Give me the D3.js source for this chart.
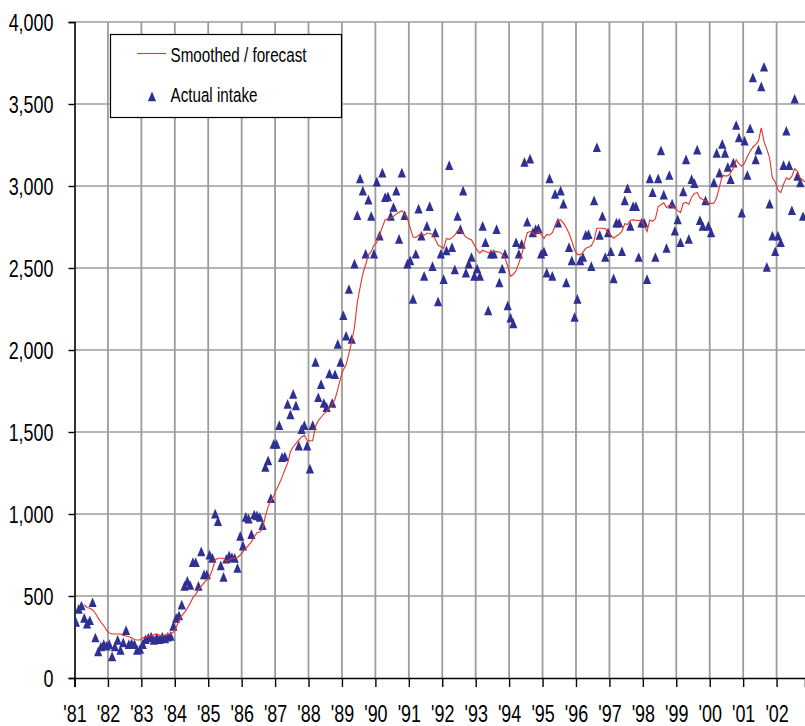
<!DOCTYPE html>
<html>
<head>
<meta charset="utf-8">
<script src="https://cdn.jsdelivr.net/npm/d3@7/dist/d3.min.js"></script>
<style>
  html, body { margin: 0; padding: 0; background: #fff; }
  svg { display: block; }
  text { font-family: "Liberation Sans", Arial, sans-serif; fill: #000; }
</style>
</head>
<body>
<svg id="chart" width="805" height="726"></svg>
<script>
// Monthly intake, one array per calendar year (Jan..Dec)
const startYear = 1981;
const actual1981 = [335, 415, 435, 360, 325, 345, 455, 240, 155, 185, 200, 190];
const actual1982 = [200, 125, 185, 225, 165, 210, 285, 200, 205, 200, 165, 170];
const actual1983 = [200, 230, 240, 245, 225, 240, 230, 245, 235, 245, 250, 310];
const actual1984 = [360, 375, 440, 555, 585, 560, 700, 700, 555, 765, 625, 625];
const actual1985 = [745, 725, 995, 950, 680, 610, 720, 740, 730, 725, 665, 860];
const actual1986 = [800, 975, 965, 870, 990, 985, 975, 925, 1280, 1320, 1090, 1420];
const actual1987 = [1420, 1535, 1340, 1345, 1665, 1600, 1725, 1655, 1410, 1510, 1535, 1410];
const actual1988 = [1270, 1535, 1920, 1705, 1785, 1670, 1645, 1850, 1670, 1845, 2030, 1920];
const actual1989 = [2205, 2080, 2365, 2060, 2520, 2815, 3040, 2965, 2580, 2910, 2810, 2580];
const actual1990 = [3020, 2690, 3075, 2925, 2930, 2810, 2865, 2965, 2670, 3075, 2815, 2520];
const actual1991 = [2540, 2305, 2580, 2855, 2690, 2445, 2750, 2870, 2505, 2710, 2290, 2580];
const actual1992 = [2425, 2600, 3120, 2620, 2485, 2810, 2730, 2965, 2465, 2520, 2560, 2445];
const actual1993 = [2490, 2445, 2750, 2650, 2235, 2580, 2580, 2730, 2405, 2490, 2580, 2265];
const actual1994 = [2190, 2155, 2650, 2580, 2640, 3140, 2775, 3160, 2710, 2730, 2735, 2580];
const actual1995 = [2595, 2465, 3040, 2445, 2945, 2770, 2965, 2885, 2405, 2620, 2540, 2195];
const actual1996 = [2305, 2540, 2560, 2695, 2700, 2505, 2905, 3230, 2695, 2810, 2560, 2710];
const actual1997 = [2595, 2430, 2770, 2770, 2595, 2905, 2980, 2750, 2870, 2870, 2560, 2770];
const actual1998 = [2770, 2425, 3040, 2955, 2560, 3040, 3210, 2940, 2615, 3060, 2885, 2720];
const actual1999 = [2790, 2650, 2960, 3155, 2670, 3035, 3010, 3215, 2785, 2750, 2905, 2750];
const actual2000 = [2710, 3015, 3195, 3075, 3250, 3195, 3110, 3035, 3135, 3365, 3290, 2830];
const actual2001 = [3270, 3060, 3345, 3655, 3155, 3215, 3600, 3720, 2500, 2885, 2690, 2595];
const actual2002 = [2690, 2650, 3120, 3330, 3120, 2845, 3525, 3055, 3015, 2810];

// Smoothed / forecast series, monthly, beginning April 1981
const smoothStartMonth = 3;
const smoothed1981 = [445, 430, 425, 415, 395, 365, 340, 320, 290];
const smoothed1982 = [275, 268, 268, 268, 268, 260, 256, 252, 245, 235, 232, 232];
const smoothed1983 = [245, 252, 255, 258, 265, 268, 260, 256, 260, 265, 268, 280];
const smoothed1984 = [310, 350, 380, 400, 425, 455, 490, 510, 537, 560, 580, 600];
const smoothed1985 = [618, 660, 720, 730, 730, 730, 710, 720, 730, 730, 735, 750];
const smoothed1986 = [770, 790, 810, 830, 860, 886, 890, 910, 985, 1045, 1080, 1110];
const smoothed1987 = [1150, 1185, 1225, 1270, 1310, 1380, 1410, 1430, 1450, 1470, 1480, 1450];
const smoothed1988 = [1447, 1447, 1535, 1570, 1590, 1610, 1625, 1645, 1670, 1700, 1760, 1830];
const smoothed1989 = [1880, 1910, 1980, 2050, 2140, 2290, 2380, 2465, 2520, 2580, 2600, 2640];
const smoothed1990 = [2655, 2700, 2750, 2795, 2800, 2805, 2815, 2830, 2840, 2850, 2830, 2800];
const smoothed1991 = [2745, 2690, 2685, 2700, 2710, 2700, 2712, 2712, 2705, 2675, 2640, 2630];
const smoothed1992 = [2620, 2680, 2675, 2685, 2700, 2728, 2725, 2710, 2688, 2678, 2671, 2640];
const smoothed1993 = [2610, 2590, 2608, 2600, 2594, 2598, 2600, 2600, 2598, 2585, 2560, 2512];
const smoothed1994 = [2450, 2460, 2485, 2530, 2580, 2650, 2715, 2722, 2715, 2702, 2722, 2705];
const smoothed1995 = [2680, 2705, 2700, 2715, 2755, 2790, 2793, 2775, 2745, 2712, 2665, 2610];
const smoothed1996 = [2583, 2580, 2595, 2620, 2626, 2635, 2670, 2742, 2742, 2742, 2740, 2715];
const smoothed1997 = [2700, 2681, 2695, 2705, 2725, 2770, 2765, 2790, 2795, 2790, 2791, 2785];
const smoothed1998 = [2760, 2722, 2793, 2785, 2800, 2875, 2886, 2897, 2868, 2884, 2878, 2862];
const smoothed1999 = [2850, 2838, 2895, 2900, 2888, 2932, 2955, 2960, 2928, 2918, 2910, 2896];
const smoothed2000 = [2894, 2895, 2930, 2995, 3065, 3062, 3062, 3080, 3110, 3160, 3135, 3120];
const smoothed2001 = [3139, 3180, 3210, 3238, 3252, 3275, 3355, 3270, 3225, 3170, 3050, 3025];
const smoothed2002 = [2975, 2960, 3010, 3050, 3040, 3060, 3105, 3090, 3047, 3035, 3020];

const yTicks = [0, 500, 1000, 1500, 2000, 2500, 3000, 3500, 4000];
const yearTicks = d3.range(1981, 2003);
const yearLabels = ["'81", "'82", "'83", "'84", "'85", "'86", "'87", "'88", "'89", "'90", "'91",
                    "'92", "'93", "'94", "'95", "'96", "'97", "'98", "'99", "'00", "'01", "'02"];
const legendLabels = ["Smoothed / forecast", "Actual intake"];

const actualByYear = [actual1981, actual1982, actual1983, actual1984, actual1985, actual1986,
  actual1987, actual1988, actual1989, actual1990, actual1991, actual1992, actual1993, actual1994,
  actual1995, actual1996, actual1997, actual1998, actual1999, actual2000, actual2001, actual2002];
const smoothedByYear = [smoothed1981, smoothed1982, smoothed1983, smoothed1984, smoothed1985,
  smoothed1986, smoothed1987, smoothed1988, smoothed1989, smoothed1990, smoothed1991, smoothed1992,
  smoothed1993, smoothed1994, smoothed1995, smoothed1996, smoothed1997, smoothed1998, smoothed1999,
  smoothed2000, smoothed2001, smoothed2002];

// flatten into {t (fractional year, mid-month), v}
const actualPts = [];
actualByYear.forEach((arr, yi) => arr.forEach((v, mi) =>
  actualPts.push({ t: startYear + yi + (mi + 0.5) / 12, v })));
const smoothPts = [];
let mIdx = smoothStartMonth;
smoothedByYear.forEach(arr => arr.forEach(v => {
  smoothPts.push({ t: startYear + (mIdx + 0.5) / 12, v });
  mIdx++;
}));

const plotLeft = 74.5, plotRight = 805, plotTop = 22, plotBottom = 678;
const NARROW = 0.78;
const BLUE = "#2e3192";
const RED = "#e3342b";
const GRID = "#9c9c9c";

const x = d3.scaleLinear().domain([1981, 2002.85]).range([plotLeft, plotRight]);
const y = d3.scaleLinear().domain([0, 4000]).range([plotBottom, plotTop]);

const svg = d3.select("#chart");

svg.append("defs").append("clipPath").attr("id", "plotClip")
  .append("rect").attr("x", plotLeft).attr("y", plotTop - 5)
  .attr("width", plotRight - plotLeft).attr("height", plotBottom - plotTop + 10);

// grid
const grid = svg.append("g");
grid.selectAll("line.h").data(yTicks.filter(d => d > 0)).join("line")
  .attr("class", "h")
  .attr("x1", plotLeft).attr("x2", plotRight)
  .attr("y1", d => y(d)).attr("y2", d => y(d))
  .attr("stroke", GRID).attr("stroke-width", 1.6);
grid.selectAll("line.v").data(yearTicks.filter(d => d > 1981)).join("line")
  .attr("class", "v")
  .attr("x1", d => x(d)).attr("x2", d => x(d))
  .attr("y1", plotTop).attr("y2", plotBottom)
  .attr("stroke", GRID).attr("stroke-width", 1.8);

// axes
const yAxis = d3.axisLeft(y).tickValues(yTicks).tickSize(6).tickPadding(0).tickFormat(() => "");
const gy = svg.append("g").attr("transform", `translate(${plotLeft},0)`).call(yAxis);
gy.select(".domain").attr("stroke", "#000").attr("stroke-width", 1.6);
gy.selectAll(".tick line").attr("stroke", "#000").attr("stroke-width", 1.4);
gy.selectAll(".tick").append("text")
  .attr("transform", `translate(-21,8) scale(${NARROW},1)`)
  .attr("text-anchor", "end")
  .style("font-size", "23px")
  .attr("fill", "#000")
  .text(d => d3.format(",")(d));

const xAxis = d3.axisBottom(x).tickValues(yearTicks).tickSize(9).tickPadding(0).tickFormat(() => "");
const gx = svg.append("g").attr("transform", `translate(0,${plotBottom})`).call(xAxis);
gx.select(".domain").attr("stroke", "#000").attr("stroke-width", 1.6);
gx.selectAll(".tick line").attr("stroke", "#000").attr("stroke-width", 1.4);
gx.selectAll(".tick").append("text")
  .attr("transform", `translate(0,44) scale(${NARROW},1)`)
  .attr("text-anchor", "middle")
  .style("font-size", "23px")
  .attr("fill", "#000")
  .text((d, i) => yearLabels[i]);

// triangles
const tri = "M0,-6 L4.1,3.7 L-4.1,3.7 Z";
const plot = svg.append("g").attr("clip-path", "url(#plotClip)");
plot.selectAll("path.pt").data(actualPts).join("path")
  .attr("class", "pt")
  .attr("d", tri)
  .attr("transform", d => `translate(${x(d.t)},${y(d.v)})`)
  .attr("fill", BLUE);

// smoothed line
plot.append("path").datum(smoothPts)
  .attr("fill", "none").attr("stroke", RED).attr("stroke-width", 1.1)
  .attr("d", d3.line().x(d => x(d.t)).y(d => y(d.v)));

// legend
const lg = svg.append("g");
lg.append("rect").attr("x", 110.5).attr("y", 34.5).attr("width", 231).attr("height", 83)
  .attr("fill", "#fff").attr("stroke", "#000").attr("stroke-width", 1.2);
lg.append("line").attr("x1", 137).attr("x2", 166).attr("y1", 53.5).attr("y2", 53.5)
  .attr("stroke", RED).attr("stroke-width", 1.1);
lg.append("path").attr("d", tri).attr("transform", "translate(152,97.5)").attr("fill", BLUE);
lg.selectAll("text").data(legendLabels).join("text")
  .attr("transform", (d, i) => `translate(170.5,${i === 0 ? 61.5 : 101.5}) scale(${NARROW},1)`)
  .style("font-size", "19.5px")
  .text(d => d);
</script>
</body>
</html>
